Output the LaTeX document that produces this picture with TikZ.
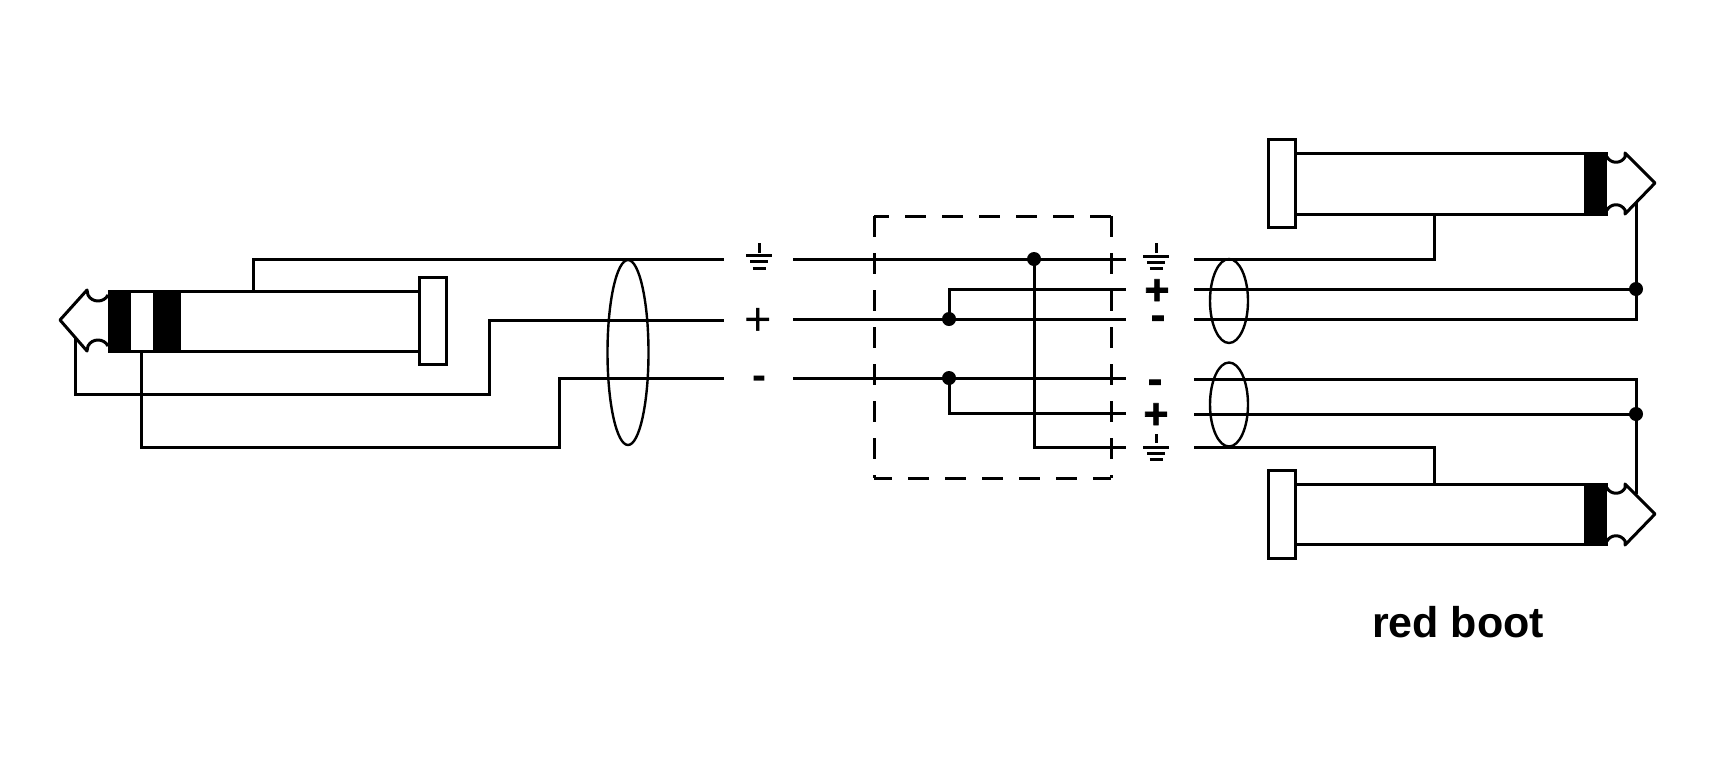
\documentclass[tikz,border=0pt]{standalone}
\usepackage{fontspec}
\setmainfont{Liberation Sans}
\newfontfamily\heavysign[BoldFeatures={FakeBold=1.5}]{Liberation Sans}
\usetikzlibrary{shapes.geometric}
\tikzset{
  wire/.style={draw=black,line width=3pt,line join=miter},
  plugline/.style={draw=black,line width=3pt,line join=round,fill=white},
  shell/.style={rectangle,draw=black,line width=3pt,fill=white,inner sep=0pt,outer sep=0pt},
  band/.style={rectangle,draw=black,line width=1pt,fill=black,inner sep=0pt,outer sep=0pt},
  ring/.style={ellipse,draw=black,line width=2.4pt,inner sep=0pt,outer sep=0pt},
  dot/.style={circle,fill=black,inner sep=0pt,outer sep=0pt},
  dashline/.style={draw=black,line width=3pt,dash pattern=on 21pt off 16pt},
  sign/.style={inner sep=0pt,outer sep=0pt,anchor=base,font=\fontsize{42pt}{42pt}\selectfont\bfseries},
  heavy/.style={inner sep=0pt,outer sep=0pt,anchor=base,font=\heavysign\fontsize{43pt}{43pt}\selectfont\bfseries},
  gnd/.style={draw=black,line width=3pt},
}
\newcommand{\groundsym}[5]{% x, stem top, stem bottom, first bar y, bar step
  \draw[gnd] (#1,#2) -- (#1,#3);
  \draw[gnd] (#1-13,#4) -- (#1+13,#4);
  \draw[gnd] (#1-9,#4+#5) -- (#1+9,#4+#5);
  \draw[gnd] (#1-6.5,#4+2*#5) -- (#1+6.5,#4+2*#5);
}
\newcommand{\tipright}[2]{% x of band end, y of top of plug
  \draw[plugline] (#1,#2+4) .. controls (#1+4,#2+11) and (#1+14,#2+11) .. (#1+18,#2+4) -- (#1+18,#2) -- (#1+48,#2+30)
    -- (#1+18,#2+61) -- (#1+18,#2+57) .. controls (#1+14,#2+50) and (#1+4,#2+50) .. (#1,#2+57);
}
\begin{document}
\begin{tikzpicture}[x=1pt,y=-1pt]
\useasboundingbox (0,0) rectangle (1718,769);
\fill[white] (0,0) rectangle (1718,769);

% ---- coordinates
\coordinate (lg0) at (253,291); \coordinate (lg1) at (253,259); \coordinate (lgE) at (724,259);
\coordinate (lt0) at (75,338);  \coordinate (lt1) at (75,394); \coordinate (lt2) at (489,394); \coordinate (lt3) at (489,320); \coordinate (ltE) at (724,320);
\coordinate (lr0) at (141,351); \coordinate (lr1) at (141,447); \coordinate (lr2) at (559,447); \coordinate (lr3) at (559,378); \coordinate (lrE) at (724,378);
\coordinate (mgS) at (793,259); \coordinate (mgE) at (1126,259);
\coordinate (mpS) at (793,319); \coordinate (mpE) at (1126,319);
\coordinate (mnS) at (793,378); \coordinate (mnE) at (1126,378);
\coordinate (a1) at (949,289);  \coordinate (a1E) at (1126,289);
\coordinate (a2) at (949,413);  \coordinate (a2E) at (1126,413);
\coordinate (a3) at (1034,447); \coordinate (a3E) at (1126,447);
\coordinate (rgS) at (1194,259); \coordinate (rg1) at (1434,259); \coordinate (rg2) at (1434,214);
\coordinate (rpS) at (1194,289); \coordinate (rnS) at (1194,319); \coordinate (rn1) at (1636,319);
\coordinate (rtA) at (1636,203);
\coordinate (snS) at (1194,379); \coordinate (sn1) at (1636,379);
\coordinate (spS) at (1194,414);
\coordinate (sgS) at (1194,447); \coordinate (sg1) at (1434,447); \coordinate (sg2) at (1434,484);
\coordinate (stA) at (1636,494);

% ---- dashed box
\draw[dashline,dash phase=6pt] (874,216) -- (1111,216);
\draw[dashline,dash phase=3pt] (874,478) -- (1111,478);
\draw[dashline] (874,216) -- (874,478);
\draw[dashline] (1111,216) -- (1111,478);

% ---- wires
\draw[wire] (lg0) -- (lg1) -- (lgE);
\draw[wire] (lt0) -- (lt1) -- (lt2) -- (lt3) -- (ltE);
\draw[wire] (lr0) -- (lr1) -- (lr2) -- (lr3) -- (lrE);

\node[dot,minimum size=14pt] (j1) at (1034,259) {};
\node[dot,minimum size=14pt] (j2) at (949,319) {};
\node[dot,minimum size=14pt] (j3) at (949,378) {};
\node[dot,minimum size=14pt] (j4) at (1636,289) {};
\node[dot,minimum size=14pt] (j5) at (1636,414) {};

\draw[wire] (mgS) -- (mgE);
\draw[wire] (mpS) -- (mpE);
\draw[wire] (mnS) -- (mnE);
\draw[wire] (j2.center) -- (a1) -- (a1E);
\draw[wire] (j3.center) -- (a2) -- (a2E);
\draw[wire] (j1.center) -- (a3) -- (a3E);

\draw[wire] (rgS) -- (rg1) -- (rg2);
\draw[wire] (rpS) -- (j4.center);
\draw[wire] (rnS) -- (rn1) -- (rtA);
\draw[wire] (snS) -- (sn1) -- (stA);
\draw[wire] (spS) -- (j5.center);
\draw[wire] (sgS) -- (sg1) -- (sg2);

% ---- shield rings
\node[ring,minimum width=41pt,minimum height=185pt] (ringL) at (628,352.5) {};
\node[ring,minimum width=38pt,minimum height=84pt] (ringR1) at (1229,301) {};
\node[ring,minimum width=38pt,minimum height=84pt] (ringR2) at (1229,404.5) {};

% ---- left plug
\draw[plugline] (108,295) .. controls (104,303) and (92,303) .. (88,295) -- (87,290) -- (60,320)
  -- (87,351) -- (88,346) .. controls (92,338) and (104,338) .. (108,346);
\node[shell,minimum width=240pt,minimum height=60pt] (lbody) at (299,321) {};
\node[shell,minimum width=27pt,minimum height=87pt] (lflange) at (432.5,320.5) {};
\node[shell,minimum width=28pt,minimum height=60pt] (lb2) at (142,321) {};
\node[band,minimum width=22pt,minimum height=62pt] (lb1) at (119.5,321) {};
\node[band,minimum width=25pt,minimum height=62pt] (lb3) at (166,321) {};

% ---- upper right plug
\node[shell,minimum width=290pt,minimum height=61pt] (rbody) at (1440,183.5) {};
\node[shell,minimum width=27pt,minimum height=88pt] (rflange) at (1281.5,183) {};
\node[band,minimum width=23pt,minimum height=63pt] (rband) at (1596,183.5) {};
\tipright{1607}{153}

% ---- lower right plug
\node[shell,minimum width=290pt,minimum height=60pt] (sbody) at (1440,514) {};
\node[shell,minimum width=27pt,minimum height=88pt] (sflange) at (1281.5,514) {};
\node[band,minimum width=23pt,minimum height=62pt] (sband) at (1596,514) {};
\tipright{1607}{484}

% ---- signs
\groundsym{759}{243}{253}{255}{6.5}
\node[sign,font=\fontsize{47pt}{47pt}\selectfont] (lplus) at (758,335) {+};
\node[sign] (lminus) at (759,389) {-};
\groundsym{1156}{243}{253}{256}{6}
\node[heavy] (rplus) at (1157,304.5) {+};
\node[heavy] (rminus) at (1158,329.5) {-};
\node[heavy] (splus) at (1156,428.5) {+};
\node[heavy] (sminus) at (1155,393.5) {-};
\groundsym{1156}{434}{443}{447}{6}

\node[inner sep=0pt,anchor=base,font=\fontsize{43pt}{43pt}\selectfont\bfseries] (label) at (1458,637) {red boot};
\end{tikzpicture}
\end{document}
